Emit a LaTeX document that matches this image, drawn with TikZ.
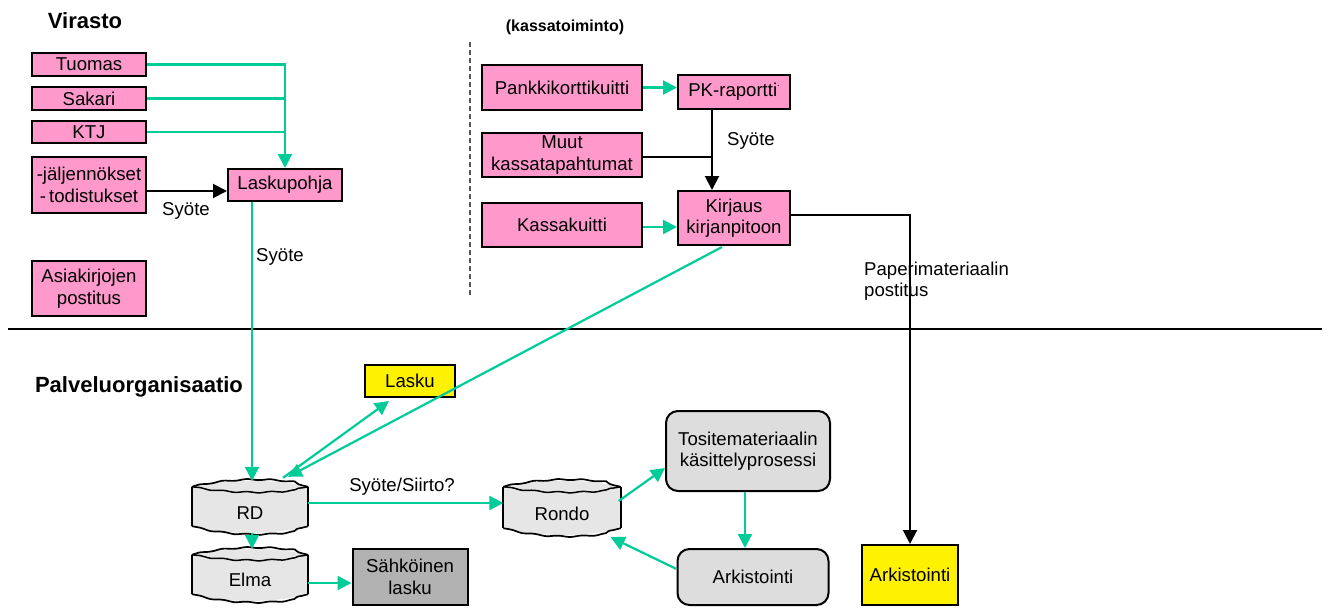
\documentclass[tikz,border=0pt]{standalone}
\usepackage{fontspec}
\setmainfont{Liberation Sans}
\usetikzlibrary{arrows.meta,calc,decorations.pathmorphing}
\definecolor{pinkbox}{HTML}{FF99CC}
\definecolor{grn}{HTML}{00CC99}
\definecolor{cylfill}{HTML}{E6E6E6}
\definecolor{roundfill}{HTML}{DDDDDD}
\definecolor{darkgray}{HTML}{B2B2B2}
\newcommand\wavycyl[1]{%
  \fill[cylfill] ($(#1.north west)+(0,6)$) .. controls ($(#1.north west)+(35,-2)$) and ($(#1.north east)+(-35,-2)$) .. ($(#1.north east)+(0,6)$)
     -- ($(#1.south east)+(0,-7)$) .. controls ($(#1.south east)+(-35,2)$) and ($(#1.south west)+(35,2)$) .. ($(#1.south west)+(0,-7)$) -- cycle;
  \draw[line width=2pt] ($(#1.north west)+(0,6)$) -- ($(#1.south west)+(0,-7)$);
  \draw[line width=2pt] ($(#1.north east)+(0,6)$) -- ($(#1.south east)+(0,-7)$);
  \draw[line width=1.7pt, decorate, decoration={snake,amplitude=0.6pt,segment length=24pt}]
     ($(#1.north west)+(0,6)$) .. controls ($(#1.north west)+(35,-2)$) and ($(#1.north east)+(-35,-2)$) .. ($(#1.north east)+(0,6)$);
  \draw[line width=1.5pt, decorate, decoration={snake,amplitude=0.6pt,segment length=24pt}]
     ($(#1.north west)+(0,6)$) .. controls ($(#1.north west)+(35,12)$) and ($(#1.north east)+(-35,12)$) .. ($(#1.north east)+(0,6)$);
  \draw[line width=1.7pt, decorate, decoration={snake,amplitude=0.6pt,segment length=24pt}]
     ($(#1.south west)+(0,-7)$) .. controls ($(#1.south west)+(35,2)$) and ($(#1.south east)+(-35,2)$) .. ($(#1.south east)+(0,-7)$);
}
\begin{document}
\begin{tikzpicture}[x=1pt,y=-1pt,
  font=\fontsize{18.6}{21.5}\selectfont,
  pbox/.style={draw, line width=2pt, fill=pinkbox, inner sep=0pt, align=center},
  ybox/.style={draw, line width=2pt, fill=yellow, inner sep=0pt, align=center},
  gbox/.style={draw, line width=2pt, fill=darkgray, inner sep=0pt, align=center},
  rbox/.style={draw, line width=2pt, fill=roundfill, rounded corners=12pt, inner sep=0pt, align=center},
  cylnode/.style={inner sep=0pt, minimum width=116pt, align=center},
  lbl/.style={inner sep=0pt},
  ttl/.style={inner sep=0pt, font=\bfseries\fontsize{22}{26}\selectfont},
  tip/.style={-{Triangle[length=14pt,width=14pt]}},
  gline/.style={draw=grn, line width=2.2pt},
  garrow/.style={gline, tip},
  bline/.style={draw=black, line width=2pt},
  barrow/.style={bline, tip}]
\useasboundingbox (0,0) rectangle (1334,610);

% titles
\node[ttl] (virasto) at (85,21) {Virasto};
\node[ttl, font=\bfseries\fontsize{16}{19}\selectfont] (kassa-t) at (565,27) {(kassatoiminto)};
\node[ttl] (palvelu) at (139,387) {Palveluorganisaatio};

% dividers
\coordinate (d1) at (470,42); \coordinate (d2) at (470,295);
\draw[line width=1.2pt, gray!70!black, dash pattern=on 5pt off 3pt] (d1) -- (d2);
\coordinate (h1) at (8,329); \coordinate (h2) at (1322,329);
\draw[line width=2pt] (h1) -- (h2);

% Virasto boxes
\node[pbox, minimum width=114pt, minimum height=23pt] (tuomas) at (89,64.5) {Tuomas};
\node[pbox, minimum width=114pt, minimum height=23pt] (sakari) at (89,98.5) {Sakari};
\node[pbox, minimum width=114pt, minimum height=22pt] (ktj) at (89,132) {KTJ};
\node[pbox, minimum width=114pt, minimum height=56pt] (jal) at (89,185) {-jäljennökset\\-\,todistukset};
\node[pbox, minimum width=114pt, minimum height=55pt] (asia) at (89,288.5) {Asiakirjojen\\postitus};
\node[pbox, minimum width=114pt, minimum height=32pt] (lp) at (285,185) {Laskupohja};

% kassatoiminto boxes
\node[pbox, minimum width=160pt, minimum height=45pt] (pankki) at (562,87.5) {Pankkikorttikuitti};
\node[pbox, minimum width=112pt, minimum height=34pt] (pk) at (734,92) {PK-raportti\raisebox{1.0ex}{\fontsize{9}{9}\selectfont .}};
\node[pbox, minimum width=160pt, minimum height=44pt] (muut) at (562,155) {Muut\\kassatapahtumat};
\node[pbox, minimum width=160pt, minimum height=44pt] (kassa) at (562,225) {Kassakuitti};
\node[pbox, minimum width=112pt, minimum height=54pt] (kirj) at (734,218) {Kirjaus\\kirjanpitoon};

% lower part
\node[ybox, minimum width=90pt, minimum height=32pt] (lasku) at (410,381) {Lasku};
\node[ybox, minimum width=96pt, minimum height=60pt] (ark2) at (910,575) {Arkistointi};
\node[gbox, minimum width=115pt, minimum height=56pt] (sahk) at (410,577) {Sähköinen\\lasku};
\node[rbox, minimum width=164pt, minimum height=80pt] (tos) at (748,451) {Tositemateriaalin\\käsittelyprosessi};
\node[rbox, minimum width=151pt, minimum height=56pt] (ark1) at (753,577) {Arkistointi};

% cylinders
\node[cylnode, minimum height=52pt] (rd) at (250,507) {};
\node[cylnode, minimum height=52pt] (elma) at (250,575) {};
\node[cylnode, minimum height=54pt, minimum width=117pt] (rondo) at (562,508) {};
\wavycyl{rd}
\wavycyl{elma}
\wavycyl{rondo}
\node[lbl] (rdt) at ($(rd.center)+(0,6)$) {RD};
\node[lbl] (elmat) at ($(elma.center)+(0,5)$) {Elma};
\node[lbl] (rondot) at ($(rondo.center)+(0,6)$) {Rondo};

% labels
\node[lbl] (s1) at (186,211) {Syöte};
\node[lbl] (s2) at (280,257) {Syöte};
\node[lbl] (s3) at (751,141) {Syöte};
\node[lbl, anchor=west, align=left] (pap) at (864,281) {Paperimateriaalin\\postitus};
\node[lbl] (ss) at (402,487) {Syöte/Siirto?};

% Virasto connectors
\draw[garrow] (tuomas.east) -| (lp.north);
\draw[gline] (sakari.east) -- (sakari.east -| lp.north);
\draw[gline] (ktj.east) -- (ktj.east -| lp.north);
\coordinate (j1) at ($(jal.east)+(0,6)$);
\draw[barrow] (j1) -- (j1 -| lp.west);
\coordinate (lpb) at ($(lp.south)+(-33,0)$);
\draw[garrow] (lpb) -- (lpb |- rd.north);

% kassa connectors
\draw[garrow] (pankki.east) -- (pankki.east -| pk.west);
\coordinate (pkb) at ($(pk.south)+(-22,0)$);
\draw[barrow] (pkb) -- (pkb |- kirj.north);
\coordinate (m1) at ($(muut.east)+(0,2)$);
\draw[bline] (m1) -- (m1 -| pkb);
\coordinate (k1) at ($(kassa.east)+(0,2)$);
\draw[garrow] (k1) -- (k1 -| kirj.west);
\coordinate (kr) at ($(kirj.east)+(0,-3)$);
\draw[barrow] (kr) -| (ark2.north);

% RD connections
\coordinate (rdA) at ($(rd.north)+(33,-3)$);
\coordinate (laskuB) at ($(lasku.south)+(-21,3)$);
\draw[garrow] (rdA) -- (laskuB);
\coordinate (kirjB) at ($(kirj.south)+(-12,1)$);
\coordinate (rdB) at ($(rd.north)+(38,-4)$);
\draw[garrow] (kirjB) -- (rdB);
\coordinate (rdE) at ($(rd.east)+(0,-4)$);
\draw[garrow] (rdE) -- (rdE -| rondo.west);
\coordinate (rdS) at ($(rd.south)+(2,0)$);
\draw[garrow] (rdS) -- (rdS |- elma.north);
\coordinate (elE) at ($(elma.east)+(0,8)$);
\draw[garrow] (elE) -- (elE -| sahk.west);

% Rondo cycle
\coordinate (roE) at ($(rondo.east)+(-2,-7)$);
\coordinate (tosW) at ($(tos.west)+(0,17)$);
\draw[garrow] (roE) -- (tosW);
\coordinate (tosS) at ($(tos.south)+(-3,0)$);
\draw[garrow] (tosS) -- (tosS |- ark1.north);
\coordinate (arkW) at ($(ark1.west)+(0,-8)$);
\coordinate (roSE) at ($(rondo.south east)+(-10,2)$);
\draw[garrow] (arkW) -- (roSE);
\end{tikzpicture}
\end{document}
